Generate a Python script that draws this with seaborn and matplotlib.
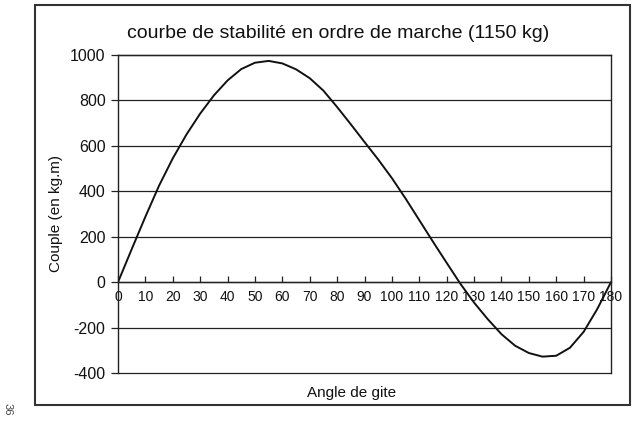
import pandas as pd
import matplotlib
matplotlib.use('Agg')
import matplotlib.pyplot as plt
from matplotlib.patches import Rectangle
import seaborn as sns

# angle de gite (degres) et couple redresseur (kg.m)
angles = [0, 5, 10, 15, 20, 25, 30, 35, 40, 45, 50, 55, 60, 65, 70, 75, 80, 85, 90,
          95, 100, 105, 110, 115, 120, 125, 130, 135, 140, 145, 150, 155, 160, 165,
          170, 175, 180]
couple = [0, 145, 288, 425, 545, 650, 742, 822, 888, 938, 966, 974, 963, 937, 898,
          843, 771, 695, 617, 540, 458, 368, 273, 178, 85, -7, -90, -163, -229,
          -280, -312, -328, -324, -289, -219, -118, 0]

x_ticks = list(range(0, 181, 10))
y_ticks = list(range(-400, 1001, 200))

df = pd.DataFrame({'angle': angles, 'couple': couple})

sns.set_style('white')
plt.rcParams['font.family'] = ['Liberation Sans', 'DejaVu Sans']

fig = plt.figure(figsize=(6.4, 4.26), dpi=100)
ax = fig.add_axes([118 / 640, 1 - 373 / 426, (611 - 118) / 640, (373 - 55) / 426])

sns.lineplot(data=df, x='angle', y='couple', ax=ax, color='#111111', linewidth=1.4)

ax.set_xlim(0, 180)
ax.set_ylim(-400, 1000)
ax.set_yticks(y_ticks)
ax.set_xticks(x_ticks)
ax.set_xticklabels([str(v) for v in x_ticks], fontsize=9.3)
ax.set_yticklabels([str(v) for v in y_ticks], fontsize=11.5)
for v in y_ticks:
    ax.axhline(v, color='#222222', linewidth=0.9, zorder=0, clip_on=False)

# axe des x croise a 0
ax.spines['bottom'].set_position(('data', 0))
for s in ['left', 'right', 'top', 'bottom']:
    ax.spines[s].set_color('#222222')
    ax.spines[s].set_linewidth(1.0)

ax.tick_params(axis='x', direction='in', length=4, width=0.9, color='#222222',
               pad=6, labelcolor='#111111', bottom=True)
ax.tick_params(axis='y', direction='out', length=5, width=0.9, color='#222222',
               left=True, labelcolor='#111111', pad=4)
ax.set_xlabel('')
ax.set_ylabel('')

fig.text(338 / 640, 1 - 33 / 426, 'courbe de stabilité en ordre de marche (1150 kg)',
         ha='center', va='center', fontsize=14, color='#111111')
fig.text(352 / 640, 1 - 393 / 426, 'Angle de gite', ha='center', va='center',
         fontsize=11, color='#111111')
fig.text(56 / 640, 1 - 214 / 426, 'Couple (en kg.m)', ha='center', va='center',
         rotation=90, fontsize=11, color='#111111')
fig.text(8 / 640, 1 - 409 / 426, '36', ha='center', va='center', rotation=270,
         fontsize=8, color='#444444')

fig.patches.append(Rectangle((35 / 640, 1 - 405 / 426), (630 - 35) / 640, (405 - 5) / 426,
                             transform=fig.transFigure, fill=False,
                             edgecolor='#333333', linewidth=1.5))

fig.savefig('out.png', dpi=100)
